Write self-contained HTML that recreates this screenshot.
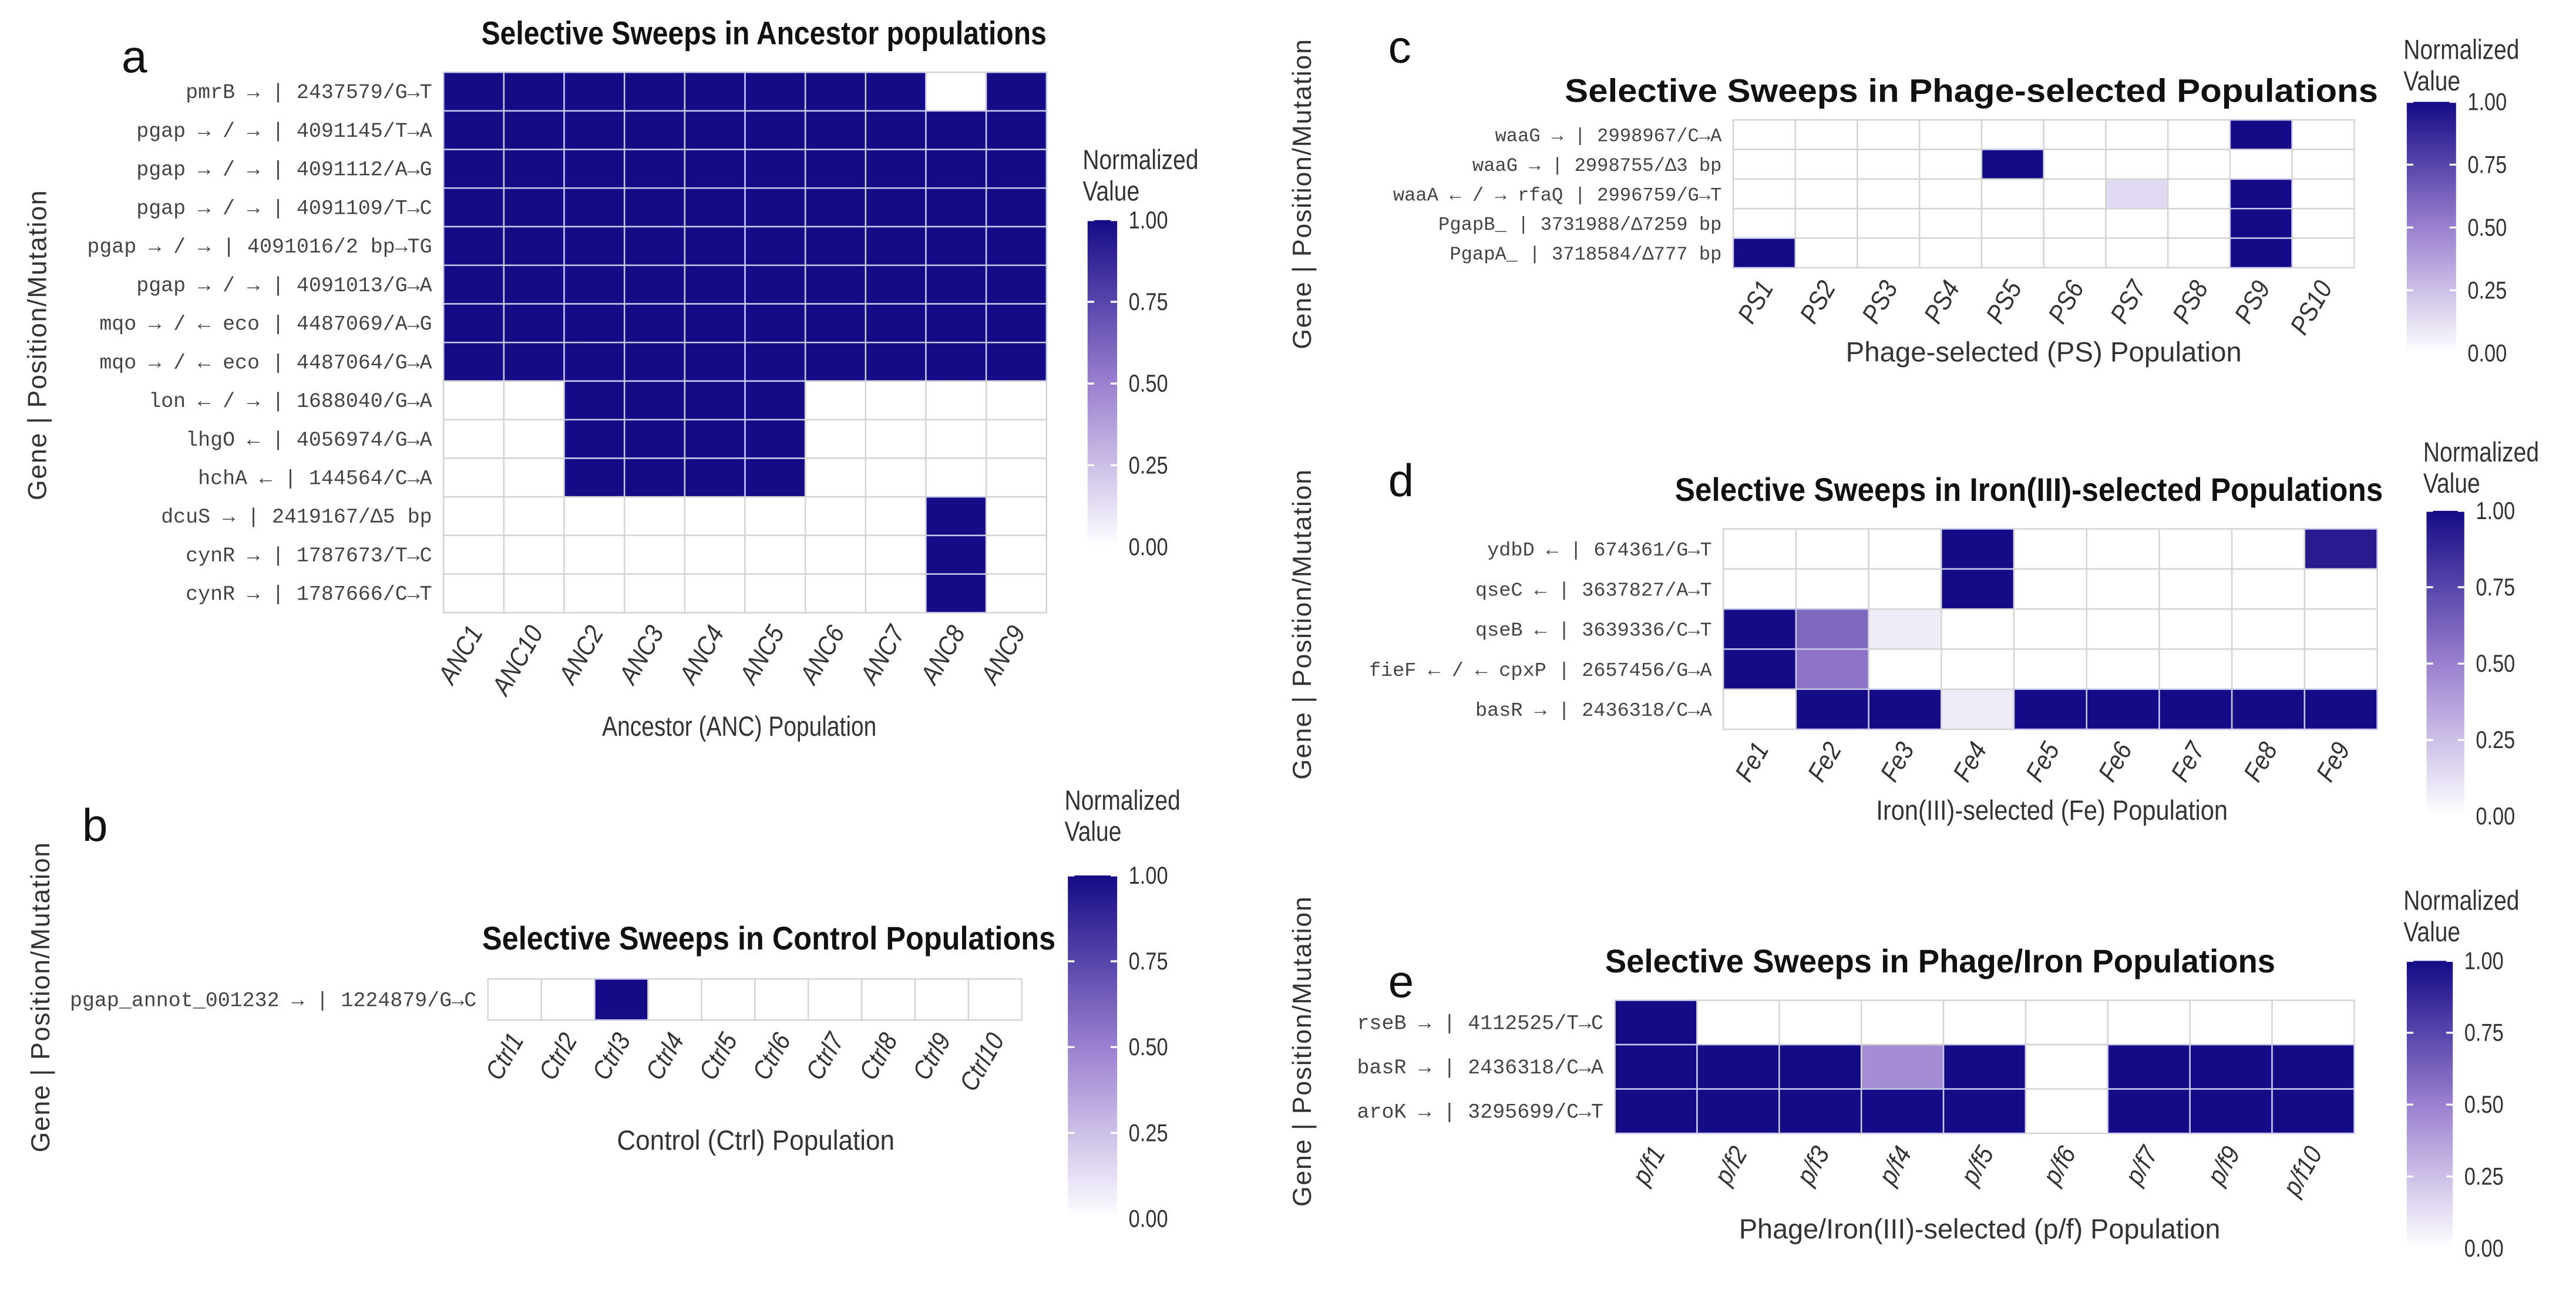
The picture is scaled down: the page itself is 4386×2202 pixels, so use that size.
<!DOCTYPE html>
<html><head><meta charset="utf-8">
<style>
html,body{margin:0;padding:0;background:#fff;}
svg{display:block;}
text{font-family:"Liberation Sans",sans-serif;}
.mono{font-family:"Liberation Mono",monospace;fill:#444;}
.title{font-family:"Liberation Sans Narrow","Liberation Sans",sans-serif;font-weight:bold;fill:#111;}
.narrow{font-family:"Liberation Sans Narrow","Liberation Sans",sans-serif;fill:#333;}
</style></head>
<body>
<svg id="fig" width="4386" height="2202" viewBox="0 0 1568 787.2" xmlns="http://www.w3.org/2000/svg">
<defs>
<linearGradient id="cbar" x1="0" y1="1" x2="0" y2="0">
<stop offset="0" stop-color="#ffffff"/>
<stop offset="0.5" stop-color="#9a80cf"/>
<stop offset="1" stop-color="#150b86"/>
</linearGradient>
</defs>
</svg>
<script>
// ---- data ----
const ancCols = ["ANC1","ANC10","ANC2","ANC3","ANC4","ANC5","ANC6","ANC7","ANC8","ANC9"];
const ancRows = ["pmrB → | 2437579/G→T","pgap → / →  | 4091145/T→A","pgap → / →  | 4091112/A→G","pgap → / →  | 4091109/T→C","pgap → / →  | 4091016/2 bp→TG","pgap → / →  | 4091013/G→A","mqo → / ← eco | 4487069/A→G","mqo → / ← eco | 4487064/G→A","lon ← / → | 1688040/G→A","lhgO ← | 4056974/G→A","hchA ← | 144564/C→A","dcuS → | 2419167/Δ5 bp","cynR → | 1787673/T→C","cynR → | 1787666/C→T"];
const ancVals = [
[1,1,1,1,1,1,1,1,0,1],[1,1,1,1,1,1,1,1,1,1],[1,1,1,1,1,1,1,1,1,1],[1,1,1,1,1,1,1,1,1,1],
[1,1,1,1,1,1,1,1,1,1],[1,1,1,1,1,1,1,1,1,1],[1,1,1,1,1,1,1,1,1,1],[1,1,1,1,1,1,1,1,1,1],
[0,0,1,1,1,1,0,0,0,0],[0,0,1,1,1,1,0,0,0,0],[0,0,1,1,1,1,0,0,0,0],
[0,0,0,0,0,0,0,0,1,0],[0,0,0,0,0,0,0,0,1,0],[0,0,0,0,0,0,0,0,1,0]];
const ctrlCols = ["Ctrl1","Ctrl2","Ctrl3","Ctrl4","Ctrl5","Ctrl6","Ctrl7","Ctrl8","Ctrl9","Ctrl10"];
const ctrlRows = ["pgap_annot_001232 → | 1224879/G→C"];
const ctrlVals = [[0,0,1,0,0,0,0,0,0,0]];
const psCols = ["PS1","PS2","PS3","PS4","PS5","PS6","PS7","PS8","PS9","PS10"];
const psRows = ["waaG → | 2998967/C→A","waaG → | 2998755/Δ3 bp","waaA ← / → rfaQ | 2996759/G→T","PgapB_ | 3731988/Δ7259 bp","PgapA_ | 3718584/Δ777 bp"];
const psVals = [[0,0,0,0,0,0,0,0,1,0],[0,0,0,0,1,0,0,0,0,0],[0,0,0,0,0,0,0.15,0,1,0],[0,0,0,0,0,0,0,0,1,0],[1,0,0,0,0,0,0,0,1,0]];
const feCols = ["Fe1","Fe2","Fe3","Fe4","Fe5","Fe6","Fe7","Fe8","Fe9"];
const feRows = ["ydbD ← | 674361/G→T","qseC ← | 3637827/A→T","qseB ← | 3639336/C→T","fieF ← / ← cpxP | 2657456/G→A","basR → | 2436318/C→A"];
const feVals = [[0,0,0,1,0,0,0,0,0.93],[0,0,0,1,0,0,0,0,0],[1,0.6,0.08,0,0,0,0,0,0],[1,0.55,0,0,0,0,0,0,0],[0,1,1,0.08,1,1,1,1,1]];
const pfCols = ["p/f1","p/f2","p/f3","p/f4","p/f5","p/f6","p/f7","p/f9","p/f10"];
const pfRows = ["rseB → | 4112525/T→C","basR → | 2436318/C→A","aroK → | 3295699/C→T"];
const pfVals = [[1,0,0,0,0,0,0,0,0],[1,1,1,0.45,1,0,1,1,1],[1,1,1,1,1,0,1,1,1]];
const legendTicks = [0,0.25,0.5,0.75,1];
const legendLabels = ["0.00","0.25","0.50","0.75","1.00"];

const NS="http://www.w3.org/2000/svg";
const svg=document.getElementById('fig');
function mk(tag,attrs,parent,txt){const e=document.createElementNS(NS,tag);for(const k in attrs)e.setAttribute(k,attrs[k]);if(txt!==undefined)e.textContent=txt;(parent||svg).appendChild(e);return e;}
function lerp(a,b,t){return a+(b-a)*t;}
function squeeze(t,f){const L=t.getComputedTextLength();t.setAttribute('textLength',L*f);t.setAttribute('lengthAdjust','spacingAndGlyphs');}
function color(v){
  const c0=[255,255,255],c1=[154,128,207],c2=[21,11,134];
  let a,b,t; if(v<=0.5){a=c0;b=c1;t=v/0.5;}else{a=c1;b=c2;t=(v-0.5)/0.5;}
  return `rgb(${Math.round(lerp(a[0],b[0],t))},${Math.round(lerp(a[1],b[1],t))},${Math.round(lerp(a[2],b[2],t))})`;
}

function heatmap(p){
  const g=mk('g',{});
  
  
  const nC=p.cols.length,nR=p.rows.length;
  const cw=(p.x1-p.x0)/nC, rh=(p.y1-p.y0)/nR;
  const xs=i=>p.x0+i*cw, ys=j=>p.y0+j*rh;
  const L=mk('text',{x:p.letter[1],y:p.letter[2],'font-size':28,fill:'#111'},g,p.letter[0]);
  
  
  const T=mk('text',{x:p.title[1],y:p.title[2],'font-size':p.title[3],'text-anchor':'middle',class:'title',textLength:p.title[4],lengthAdjust:'spacingAndGlyphs'},g,p.title[0]);
  
  
  p.vals.forEach((row,j)=>row.forEach((v,i)=>{
    const r=mk('rect',{x:xs(i),y:ys(j),width:cw,height:rh,fill:color(v),stroke:v>0.5?'#c8c8ea':'#d4d4d4','stroke-width':0.9},g);
    
    
  }));
  p.rows.forEach((s,j)=>{
    const t=mk('text',{x:p.x0-7,y:ys(j)+rh/2+4,'font-size':p.fs,'text-anchor':'end',class:'mono'},g,s);
    
    
  });
  p.cols.forEach((s,i)=>{
    const cx=xs(i)+cw/2+6, cy=p.y1+12;
    const t=mk('text',{x:cx,y:cy,'font-size':16,'font-style':'italic','text-anchor':'end',class:'narrow',transform:`rotate(-60 ${cx} ${cy})`},g,s);
    
    
    squeeze(t,0.88);
  });
  const X=mk('text',{x:p.xt[1],y:p.xt[2],'font-size':17,'text-anchor':'middle',class:'narrow',textLength:p.xt[3],lengthAdjust:'spacingAndGlyphs'},g,p.xt[0]);
  
  
  const Y=mk('text',{x:p.yt[0],y:p.yt[1],'font-size':16,'text-anchor':'middle',fill:'#333','letter-spacing':'0.6',transform:`rotate(-90 ${p.yt[0]} ${p.yt[1]})`},g,'Gene | Position/Mutation');
  
  
  const lg=p.leg;
  const N1=mk('text',{x:lg[0],y:lg[1],'font-size':17,class:'narrow'},g,'Normalized');
  
  
  squeeze(N1,0.82);
  const N2=mk('text',{x:lg[0],y:lg[1]+19,'font-size':17,class:'narrow'},g,'Value');
  
  
  squeeze(N2,0.82);
  const B=mk('rect',{x:lg[2],y:lg[4],width:lg[3]-lg[2],height:lg[5]-lg[4],fill:'url(#cbar)'},g);
  
  
  legendTicks.forEach((v,k)=>{
    const y=lerp(lg[5],lg[4],v);
    mk('line',{x1:lg[2],x2:lg[2]+4,y1:y,y2:y,stroke:'#fff','stroke-width':1.2},g);
    mk('line',{x1:lg[3]-4,x2:lg[3],y1:y,y2:y,stroke:'#fff','stroke-width':1.2},g);
    const t=mk('text',{x:lg[3]+7,y:y+5,'font-size':15,class:'narrow'},g,legendLabels[k]);
    
    
    squeeze(t,0.82);
  });
}

heatmap({name:'heatmap-ancestor',cols:ancCols,rows:ancRows,vals:ancVals,x0:270,x1:637,y0:44,y1:373,fs:12.5,
  letter:['a',74,44],title:['Selective Sweeps in Ancestor populations',465,27,20,344],
  xt:['Ancestor (ANC) Population',450,448,167],yt:[28,210],leg:[659,103,662,680,134,333]});
heatmap({name:'heatmap-control',cols:ctrlCols,rows:ctrlRows,vals:ctrlVals,x0:297,x1:622,y0:596,y1:621,fs:12.5,
  letter:['b',50,512],title:['Selective Sweeps in Control Populations',468,578,20,349],
  xt:['Control (Ctrl) Population',460,700,169],yt:[30,607],leg:[648,493,650,680,533,742]});
heatmap({name:'heatmap-phage',cols:psCols,rows:psRows,vals:psVals,x0:1055,x1:1433,y0:73,y1:163,fs:11.5,
  letter:['c',845,38],title:['Selective Sweeps in Phage-selected Populations',1200,62,20,495],
  xt:['Phage-selected (PS) Population',1244,220,241],yt:[798,118],leg:[1463,36,1465,1495,62,215]});
heatmap({name:'heatmap-iron',cols:feCols,rows:feRows,vals:feVals,x0:1049,x1:1447,y0:322,y1:444,fs:12,
  letter:['d',845,302],title:['Selective Sweeps in Iron(III)-selected Populations',1235,305,20,431],
  xt:['Iron(III)-selected (Fe) Population',1249,499,214],yt:[798,380],leg:[1475,281,1477,1500,311,497]});
heatmap({name:'heatmap-phage-iron',cols:pfCols,rows:pfRows,vals:pfVals,x0:983,x1:1433,y0:609,y1:690,fs:12.5,
  letter:['e',845,607],title:['Selective Sweeps in Phage/Iron Populations',1181,592,20,408],
  xt:['Phage/Iron(III)-selected (p/f) Population',1205,754,293],yt:[798,640],leg:[1463,554,1465,1493,585,760]});
</script>
</body></html>
